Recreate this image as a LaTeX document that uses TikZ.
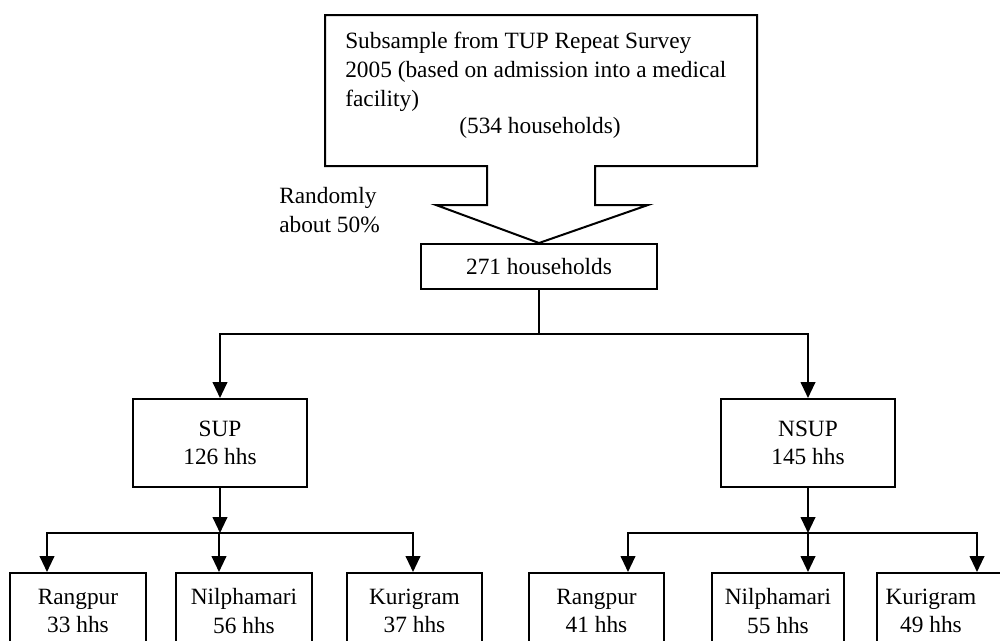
\documentclass[tikz,border=0pt]{standalone}
\usepackage{fontspec}
\setmainfont{Liberation Serif}
\usetikzlibrary{arrows.meta,calc}
\tikzset{
  base/.style={font=\fontsize{17.5pt}{21.5pt}\selectfont},
  box/.style={base,draw,line width=1.5pt,align=center,inner sep=0pt},
  arr/.style={line width=1.5pt,-{Triangle[length=12pt,width=11pt]}},
  ln/.style={line width=1.5pt},
  txt/.style={base,inner sep=0pt,align=center},
}
\begin{document}
\begin{tikzpicture}[x=0.75pt,y=-0.75pt]
\useasboundingbox (0,0) rectangle (1000,640);
\clip (0,0) rectangle (1000,640);

% nodes
\node[box,minimum width=236*0.75pt,minimum height=45*0.75pt] (hh) at (539,266.5) {271 households};
\node[box,minimum width=174*0.75pt,minimum height=88*0.75pt] (sup) at (220,443) {SUP\\126 hhs};
\node[box,minimum width=174*0.75pt,minimum height=88*0.75pt] (nsup) at (808,443) {NSUP\\145 hhs};

\node[box,minimum width=136*0.75pt,minimum height=76*0.75pt] (sr) at (78,611) {Rangpur\\33 hhs};
\node[box,minimum width=136*0.75pt,minimum height=76*0.75pt] (sn) at (244,611) {Nilphamari\\56 hhs};
\node[box,minimum width=135*0.75pt,minimum height=76*0.75pt] (sk) at (414.5,611) {Kurigram\\37 hhs};
\node[box,minimum width=135*0.75pt,minimum height=76*0.75pt] (nr) at (596.5,611) {Rangpur\\41 hhs};
\node[box,minimum width=132*0.75pt,minimum height=76*0.75pt] (nn) at (778,611) {Nilphamari\\55 hhs};
\node[box,minimum width=135*0.75pt,minimum height=76*0.75pt] (nk) at (944.5,611) {};
\node[txt] (nkt) at ($(nk.center)+(-13.5,0)$) {Kurigram\\49 hhs};

% callout with arrow
\draw[ln,line join=miter] (325,15) -- (757,15) -- (757,166) -- (595,166) -- (595,205)
  -- (648,205) -- (hh.north) -- (436,205) -- (487,205) -- (487,166) -- (325,166) -- cycle;
\node[base,inner sep=0pt,align=left,anchor=north west] (top) at (345,32)
  {Subsample from TUP Repeat Survey\\2005 (based on admission into a medical\\facility)};
\node[base,inner sep=0pt,anchor=base] (cnt) at (540,133) {(534 households)};
\node[base,inner sep=0pt,align=left,anchor=north west] (rand) at (279,187) {Randomly\\about 50\%};

% connectors
\draw[ln] (hh.south) -- ++(0,44) coordinate (mj);
\draw[arr] (mj) -| (sup.north);
\draw[arr] (mj) -| (nsup.north);

\draw[arr] (sup.south) -- ++(0,45) coordinate (supj);
\draw[arr] (supj) -| ($(sr.north)+(-31,0)$);
\draw[arr] (supj) -| ($(sn.north)+(-25,0)$);
\draw[arr] (supj) -| ($(sk.north)+(-1.5,0)$);

\draw[arr] (nsup.south) -- ++(0,45) coordinate (nsupj);
\draw[arr] (nsupj) -| ($(nr.north)+(31.5,0)$);
\draw[arr] (nsupj) -| ($(nn.north)+(30,0)$);
\draw[arr] (nsupj) -| ($(nk.north)+(32.5,0)$);
\end{tikzpicture}
\end{document}
